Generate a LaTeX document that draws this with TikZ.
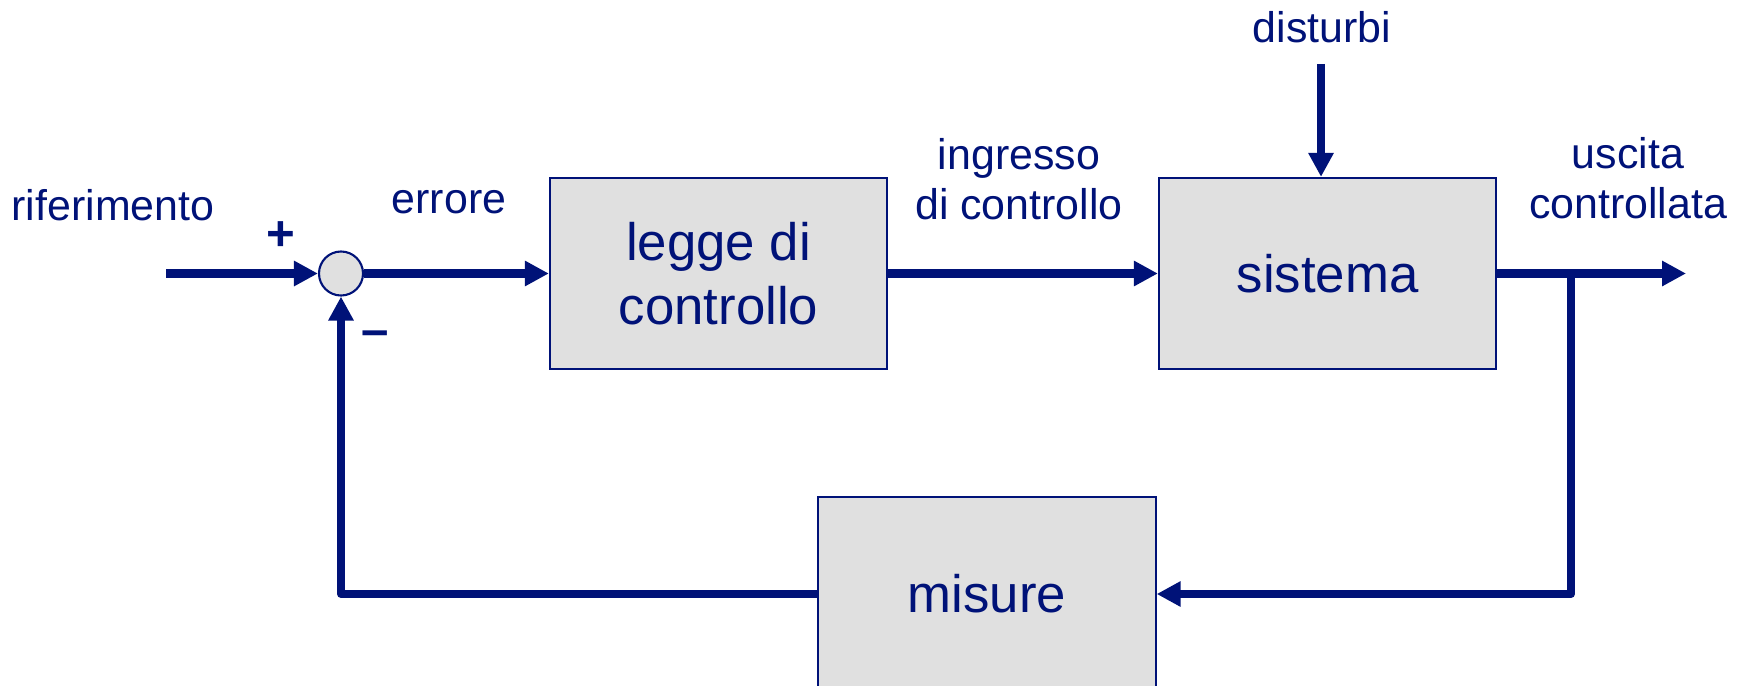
\documentclass[tikz,border=0pt]{standalone}
\usepackage{fontspec}
\setmainfont{Liberation Sans}
\usetikzlibrary{arrows.meta}
\usetikzlibrary{positioning}

\definecolor{navy}{RGB}{0,18,120}
\definecolor{boxgray}{RGB}{224,224,224}

\tikzset{
  block/.style={draw=navy,fill=boxgray,line width=0.6pt,minimum width=3.37cm,minimum height=1.91cm,
    inner sep=0pt,align=center,text=navy,font=\fontsize{15}{18.2}\selectfont},
  sumnode/.style={circle,draw=navy,fill=boxgray,line width=0.6pt,minimum size=0.44cm,inner sep=0pt},
  signal/.style={draw=navy,line width=0.08cm,line join=round,-{Triangle[length=0.24cm,width=0.24cm]}},
  lbl/.style={text=navy,font=\fontsize{12.2}{14.2}\selectfont,inner sep=0pt,align=center},
  sign/.style={text=navy,font=\fontsize{14}{16}\selectfont\bfseries,inner sep=0pt}
}

\begin{document}
\begin{tikzpicture}[x=0.01cm,y=-0.01cm]
\useasboundingbox (0,0) rectangle (1737,685);
\clip (0,0) rectangle (1737,685);

% blocks
\node[sumnode] (sum) at (341,273.5) {};
\node[block] (ctrl) at (718.5,273.5) {legge di\\controllo};
\node[block] (sys) at (1327.5,273.5) {sistema};
\node[block,minimum height=1.94cm] (meas) at (987,594) {misure};

\coordinate (ref) at (166,273.5);
\coordinate (dist) at (1321,64);
\coordinate (out) at (1686,273.5);
\coordinate (branch) at (1571,273.5);

% signals
\draw[signal] (ref) -- (sum.west);
\draw[signal] (sum.east) -- (ctrl.west);
\draw[signal] (ctrl.east) -- (sys.west);
\draw[signal] (dist) -- (dist |- sys.north);
\draw[signal] (sys.east) -- (out);
\draw[signal] (branch) |- (meas.east);
\draw[signal] (meas.west) -| (sum.south);

% labels
\node[lbl,anchor=base] (reflbl) at (113,220) {riferimento};
\node[sign,anchor=base] (plus) at (281,250) {+};
\node[sign,anchor=base] (minus) at (375,346) {–};
\node[lbl,anchor=base] (errlbl) at (449,213) {errore};
\node[lbl,anchor=south] (inlbl) at (1019,221) {ingresso\\di controllo};
\node[lbl,anchor=base] (distlbl) at (1322,43) {disturbi};
\node[lbl,anchor=south] (outlbl) at (1628,220) {uscita\\controllata};

\end{tikzpicture}
\end{document}
